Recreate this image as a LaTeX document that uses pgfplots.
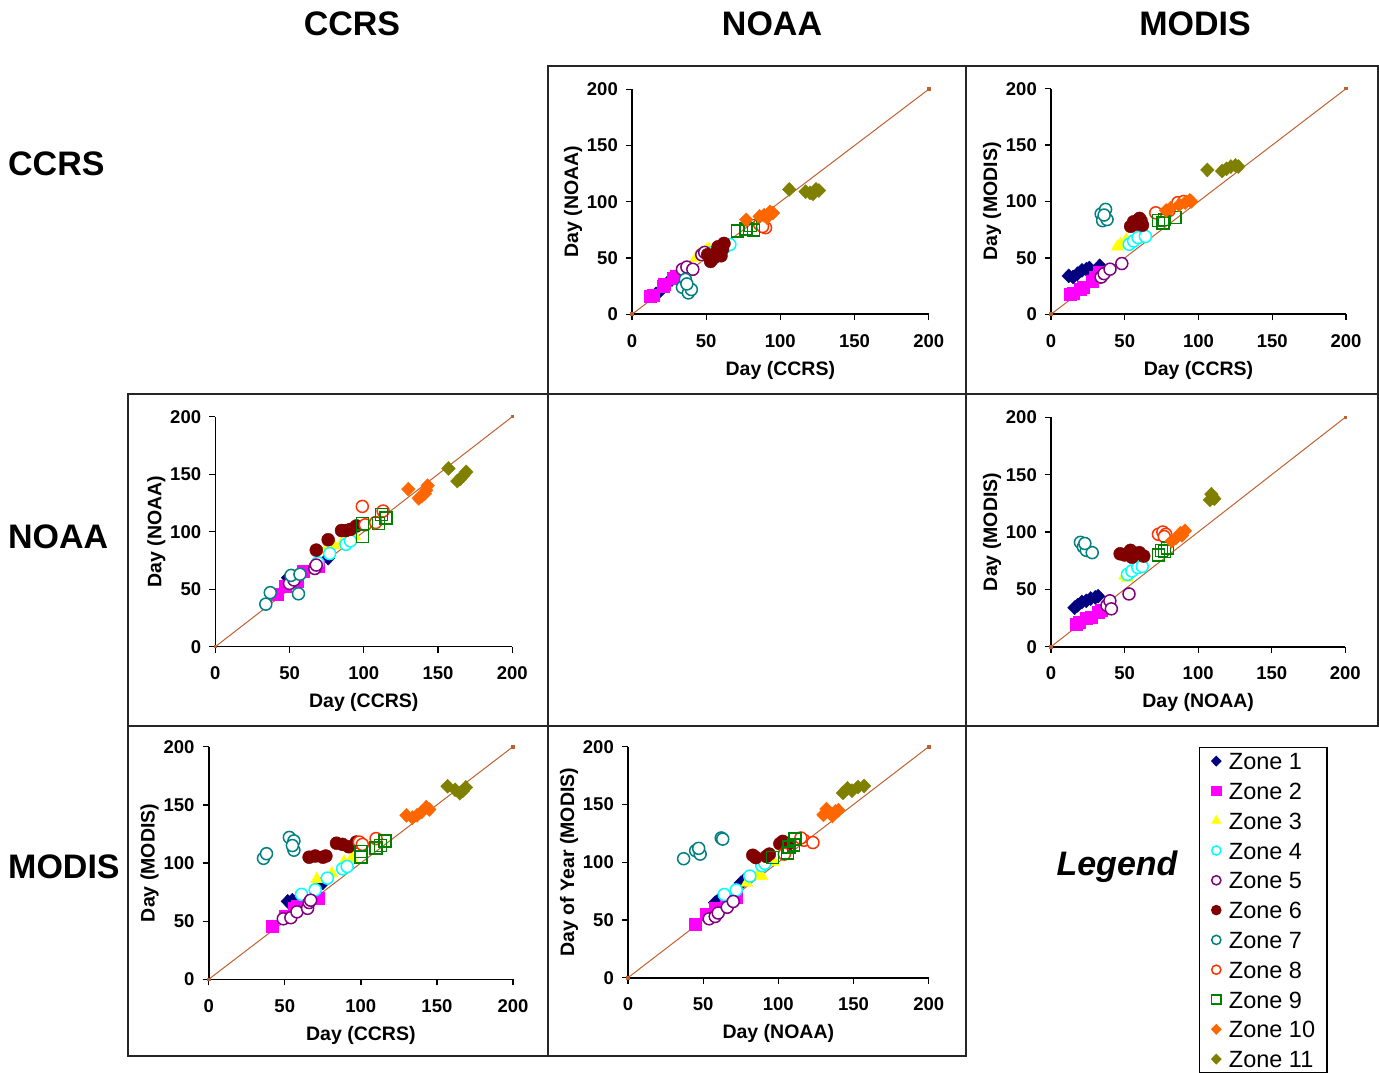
\documentclass[border=0pt]{standalone}
\usepackage{pgfplots}
\pgfplotsset{compat=1.18}
\usepackage{fontspec}
\setmainfont{Liberation Sans}

\definecolor{c1}{HTML}{000080}
\definecolor{c2}{HTML}{FF00FF}
\definecolor{c3}{HTML}{FFFF00}
\definecolor{c4}{HTML}{00FFFF}
\definecolor{c5}{HTML}{800080}
\definecolor{c6}{HTML}{800000}
\definecolor{c7}{HTML}{008080}
\definecolor{c8}{HTML}{FF3300}
\definecolor{c9}{HTML}{008000}
\definecolor{c10}{HTML}{FF6600}
\definecolor{c11}{HTML}{808000}
\definecolor{lineC}{RGB}{192,96,48}

\pgfplotsset{
  z1/.style={only marks, mark=diamond*, mark size=7pt, color=c1, mark options={xscale=1.3}},
  z2/.style={only marks, mark=square*, mark size=6pt, color=c2},
  z3/.style={only marks, mark=triangle*, mark size=7pt, color=c3},
  z4/.style={only marks, mark=*, mark size=6pt, color=c4, mark options={fill=white, line width=1.5pt}},
  z5/.style={only marks, mark=*, mark size=6pt, color=c5, mark options={fill=white, line width=1.5pt}},
  z6/.style={only marks, mark=*, mark size=6.5pt, color=c6},
  z7/.style={only marks, mark=*, mark size=6pt, color=c7, mark options={fill=white, line width=1.5pt}},
  z8/.style={only marks, mark=*, mark size=6pt, color=c8, mark options={fill=white, line width=1.5pt}},
  z9/.style={only marks, mark=square, mark size=6pt, color=c9, mark options={fill=white, line width=1.5pt}},
  z10/.style={only marks, mark=diamond*, mark size=7pt, color=c10, mark options={xscale=1.3}},
  z11/.style={only marks, mark=diamond*, mark size=7pt, color=c11, mark options={xscale=1.3}},
  diag/.style={color=lineC, line width=1pt, mark=square*, mark size=1.3pt, forget plot},
  panel/.style={
    scale only axis, anchor=south west,
    xmin=0, xmax=200, ymin=0, ymax=200,
    axis lines=left, axis line style={-, line width=1.6pt, black},
    tick align=outside, major tick length=6pt,
    tick style={line width=1.3pt, black},
    xtick={0,50,100,150,200}, ytick={0,50,100,150,200},
    /pgf/number format/assume math mode=true,
    tick label style={font=\fontsize{18.5}{18.5}\selectfont\bfseries, inner sep=0pt},
    xticklabel style={yshift=-14pt},
    yticklabel style={xshift=-8pt},
    label style={font=\fontsize{19.5}{19.5}\selectfont\bfseries},
    xlabel style={at={(axis description cs:0.5,0)}, anchor=center, yshift=-56pt},
    ylabel style={at={(axis description cs:0,0.5)}, anchor=center, yshift=59pt},
    clip=false,
  },
}

\begin{document}
\begin{tikzpicture}[x=1pt,y=1pt]
\path[use as bounding box] (0,0) rectangle (1379,1072);

% frames
\begin{scope}[line width=1.5pt, black!85]
\draw (548,678) rectangle (966,1006);
\draw (966,678) rectangle (1378,1006);
\draw (128,346) rectangle (548,678);
\draw (548,346) rectangle (966,678);
\draw (966,346) rectangle (1378,678);
\draw (128,16) rectangle (548,346);
\draw (548,16) rectangle (966,346);
\end{scope}

% headers
\begin{scope}[font=\fontsize{34}{34}\selectfont\bfseries]
\node at (352,1048) {CCRS};
\node at (772,1048) {NOAA};
\node at (1195,1048) {MODIS};
\node[anchor=west, inner sep=0pt] at (8,908) {CCRS};
\node[anchor=west, inner sep=0pt] at (8,535) {NOAA};
\node[anchor=west, inner sep=0pt] at (8,205) {MODIS};
\node at (1117,205) {\itshape Legend};
\end{scope}

% P1: CCRS vs NOAA (top middle)
\begin{axis}[panel, at={(632pt,757.7pt)}, width=296.7pt, height=225pt,
  xlabel={Day (CCRS)}, ylabel={Day (NOAA)}]
\addplot[diag] coordinates {(0,0) (200,200)};
\addplot[z1] coordinates {(16,18)(19,21)(24,28)(27,31)(33,36)};
\addplot[z2] coordinates {(12,16)(14,17)(21,25)(22,27)(28,32)(30,34)};
\addplot[z3] coordinates {(43,50)(45,53)(50,57)(52,58)};
\addplot[z4] coordinates {(54,55)(58,58)(63,60)(66,62)};
\addplot[z5] coordinates {(34,40)(37,42)(41,40)(47,53)(49,55)};
\addplot[z6] coordinates {(51,53)(53,47)(55,50)(57,55)(60,52)(61,58)(62,63)(58,60)};
\addplot[z7] coordinates {(34,24)(36,31)(38,19)(40,22)(37,27)};
\addplot[z8] coordinates {(86,80)(90,77)(88,78)};
\addplot[z9] coordinates {(71,74)(77,76)(80,79)(82,75)};
\addplot[z10] coordinates {(77,84)(86,87)(89,88)(93,91)(95,90)(91,86)};
\addplot[z11] coordinates {(106,111)(117,109)(120,108)(122,107)(124,111)(126,110)};
\end{axis}

% P2: CCRS vs MODIS (top right)
\begin{axis}[panel, at={(1051pt,757.7pt)}, width=295pt, height=225.6pt,
  xlabel={Day (CCRS)}, ylabel={Day (MODIS)}]
\addplot[diag] coordinates {(0,0) (200,200)};
\addplot[z1] coordinates {(12,34)(15,33)(18,36)(21,39)(24,40)(26,41)(33,43)};
\addplot[z2] coordinates {(13,18)(15,19)(20,22)(22,24)(28,29)(30,33)(33,37)};
\addplot[z3] coordinates {(45,60)(47,62)(51,66)};
\addplot[z4] coordinates {(53,62)(56,65)(59,68)(64,69)};
\addplot[z5] coordinates {(34,33)(36,36)(40,40)(48,45)};
\addplot[z6] coordinates {(54,78)(56,82)(58,80)(60,85)(61,83)(62,79)};
\addplot[z7] coordinates {(34,89)(37,93)(35,83)(38,84)(36,88)};
\addplot[z8] coordinates {(71,90)(80,92)(86,99)(90,100)};
\addplot[z9] coordinates {(73,83)(77,84)(84,86)(76,81)};
\addplot[z10] coordinates {(78,92)(81,94)(87,97)(91,99)(94,101)(95,100)};
\addplot[z11] coordinates {(106,128)(116,127)(119,129)(122,131)(125,132)(127,131)};
\end{axis}

% P3: CCRS vs NOAA (middle left)
\begin{axis}[panel, at={(215.3pt,425.3pt)}, width=297pt, height=230pt,
  xlabel={Day (CCRS)}, ylabel={Day (NOAA)}]
\addplot[diag] coordinates {(0,0) (200,200)};
\addplot[z1] coordinates {(49,60)(68,72)(76,77)};
\addplot[z2] coordinates {(42,46)(47,53)(55,57)(59,66)(69,70)};
\addplot[z3] coordinates {(74,84)(80,88)(86,92)(94,96)};
\addplot[z4] coordinates {(69,73)(77,81)(88,89)(91,92)};
\addplot[z5] coordinates {(50,55)(53,58)(67,68)(68,71)};
\addplot[z6] coordinates {(68,84)(76,93)(85,101)(88,101)(91,102)(95,105)};
\addplot[z7] coordinates {(34,37)(37,47)(51,62)(57,63)(56,46)};
\addplot[z8] coordinates {(99,122)(113,118)(101,106)(108,108)};
\addplot[z9] coordinates {(99,107)(99,96)(110,107)(115,112)(112,115)};
\addplot[z10] coordinates {(130,137)(137,129)(139,131)(142,136)(143,140)(141,133)};
\addplot[z11] coordinates {(157,155)(163,144)(165,146)(167,149)(169,152)};
\end{axis}

% P4: NOAA vs MODIS (middle right) + legend
\begin{axis}[panel, at={(1051pt,425.3pt)}, width=294.3pt, height=229.4pt,
  xlabel={Day (NOAA)}, ylabel={Day (MODIS)},
  legend cell align=left,
  legend image code/.code={\draw[#1, mark size=4.6pt] plot coordinates {(0pt,0pt)};},
  legend style={at={(axis description cs:0.503,-0.437)}, anchor=north west,
    draw=black, line width=1.3pt, fill=white,
    font=\fontsize{23.5}{23.5}\selectfont,
    inner xsep=12pt, inner ysep=5pt, row sep=12.8pt,
    nodes={inner sep=0pt, text height=17pt, text depth=0pt},
    /tikz/every odd column/.append style={column sep=8pt}}]
\addplot[diag] coordinates {(0,0) (200,200)};
\addplot[z1] coordinates {(16,34)(18,36)(21,39)(24,40)(27,42)(30,43)(32,44)};
\addplot[z2] coordinates {(17,20)(19,21)(24,25)(27,26)(32,30)(34,32)};
\addplot[z3] coordinates {(50,62)(52,60)};
\addplot[z4] coordinates {(52,63)(55,66)(59,69)(62,70)};
\addplot[z5] coordinates {(38,36)(40,40)(41,33)(53,46)};
\addplot[z6] coordinates {(47,81)(50,80)(54,84)(55,78)(60,82)(63,79)};
\addplot[z7] coordinates {(20,91)(22,87)(24,84)(28,82)(23,90)};
\addplot[z8] coordinates {(73,98)(76,100)(78,98)(77,96)};
\addplot[z9] coordinates {(73,80)(75,84)(79,86)(77,83)};
\addplot[z10] coordinates {(82,92)(85,95)(88,99)(91,101)(89,97)};
\addplot[z11] coordinates {(108,128)(109,133)(110,130)(111,129)};
\legend{Zone 1,Zone 2,Zone 3,Zone 4,Zone 5,Zone 6,Zone 7,Zone 8,Zone 9,Zone 10,Zone 11}
\end{axis}

% P5: CCRS vs MODIS (bottom left)
\begin{axis}[panel, at={(208.7pt,92.7pt)}, width=304.3pt, height=232.6pt,
  xlabel={Day (CCRS)}, ylabel={Day (MODIS)}]
\addplot[diag] coordinates {(0,0) (200,200)};
\addplot[z1] coordinates {(52,67)(55,68)(73,81)(75,83)};
\addplot[z2] coordinates {(42,46)(50,54)(56,61)(58,63)(72,70)};
\addplot[z3] coordinates {(71,86)(81,91)(89,101)(94,104)};
\addplot[z4] coordinates {(61,73)(70,77)(78,87)(88,95)(91,97)};
\addplot[z5] coordinates {(49,52)(54,53)(58,58)(65,61)(66,66)(67,68)};
\addplot[z6] coordinates {(66,105)(70,106)(75,105)(77,106)(84,117)(88,116)(92,114)(97,118)};
\addplot[z7] coordinates {(36,104)(38,108)(53,122)(56,119)(56,111)(55,115)};
\addplot[z8] coordinates {(99,118)(110,121)(101,116)};
\addplot[z9] coordinates {(100,110)(100,105)(110,113)(113,115)(116,119)};
\addplot[z10] coordinates {(130,141)(134,139)(137,141)(140,144)(143,148)(145,146)};
\addplot[z11] coordinates {(157,166)(162,163)(165,160)(167,162)(169,165)};
\end{axis}

% P6: NOAA vs MODIS (bottom middle)
\begin{axis}[panel, at={(628pt,94.3pt)}, width=300.7pt, height=231pt,
  xlabel={Day (NOAA)}, ylabel={Day of Year (MODIS)}]
\addplot[diag] coordinates {(0,0) (200,200)};
\addplot[z1] coordinates {(58,65)(60,67)(75,82)(77,84)};
\addplot[z2] coordinates {(45,46)(52,55)(58,60)(65,65)(72,70)};
\addplot[z3] coordinates {(79,82)(87,90)(89,88)(97,100)};
\addplot[z4] coordinates {(64,72)(72,76)(81,88)(89,97)(91,99)};
\addplot[z5] coordinates {(54,51)(58,53)(60,56)(66,61)(70,66)};
\addplot[z6] coordinates {(83,106)(85,104)(92,105)(94,107)(101,116)(103,118)(106,115)};
\addplot[z7] coordinates {(37,103)(45,110)(48,107)(47,112)(62,121)(63,120)};
\addplot[z8] coordinates {(104,107)(117,119)(123,117)(115,121)};
\addplot[z9] coordinates {(96,104)(106,108)(110,115)(111,120)(107,113)};
\addplot[z10] coordinates {(130,141)(132,146)(134,143)(136,140)(138,144)(140,145)};
\addplot[z11] coordinates {(143,160)(146,164)(149,162)(153,165)(157,166)};
\end{axis}
\end{tikzpicture}
\end{document}
